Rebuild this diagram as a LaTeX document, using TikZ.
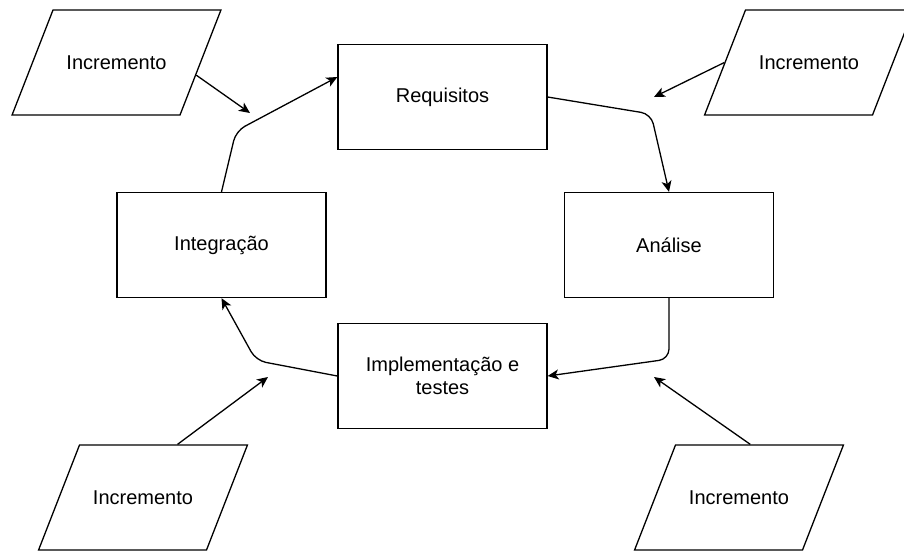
\documentclass[tikz,border=0pt]{standalone}
\usepackage{fontspec}
\setmainfont{Liberation Sans}
\usetikzlibrary{arrows.meta,shapes.geometric}

\begin{document}
\begin{tikzpicture}[x=1pt, y=-1pt, line width=1.3pt,
    >={Stealth[length=11pt,width=10pt,inset=3pt]},
    fase/.style={draw, rectangle, minimum width=209pt, minimum height=105pt,
      align=center, font=\fontsize{20}{23}\selectfont},
    incremento/.style={draw, trapezium, trapezium left angle=68.7,
      trapezium right angle=111.3, text width=127pt, align=center,
      text height=14.3pt, text depth=0pt, inner xsep=0pt, inner ysep=45.35pt,
      font=\fontsize{20}{23}\selectfont}]
  \useasboundingbox (0,0) rectangle (904,550);
  % Phases of the cycle
  \node[fase] (req) at (442.5,97) {Requisitos};
  \node[fase] (anal) at (669,245) {Análise};
  \node[fase] (impl) at (442.5,376) {Implementação e\\testes};
  \node[fase] (integ) at (221.5,245) {Integração};
  % Increments
  \node[incremento] (inc1) at (116.5,62.5) {Incremento};
  \node[incremento] (inc2) at (809,62.5) {Incremento};
  \node[incremento] (inc3) at (143,497.5) {Incremento};
  \node[incremento] (inc4) at (739,497.5) {Incremento};
  % Cycle arrows
  \draw[->, rounded corners=10pt] (req.east) -- (651,114) -- (anal.north);
  \draw[->, rounded corners=10pt] (anal.south) -- (669,359) -- (impl.east);
  \draw[->, rounded corners=10pt] (impl.west) -- (256,360.5) -- (integ.south);
  \draw[->, rounded corners=10pt] (integ.north) -- (236,131) -- ([yshift=20pt]req.west);
  % Increment arrows
  \coordinate (p1) at (250,113);
  \coordinate (p2) at (654,97);
  \coordinate (p3) at (268,377);
  \coordinate (p4) at (654,377);
  \draw[->] (inc1.-9) -- (p1);
  \draw[->] (inc2.west) -- (p2);
  \draw[->] (inc3.57) -- (p3);
  \draw[->] (inc4.78) -- (p4);
\end{tikzpicture}
\end{document}
